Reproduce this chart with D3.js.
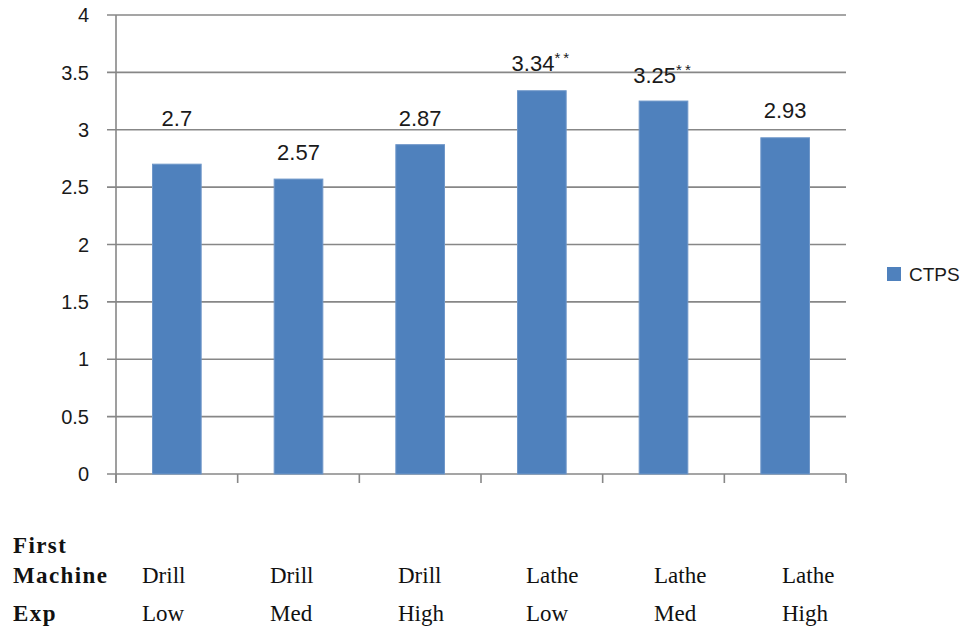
<!DOCTYPE html>
<html>
<head>
<meta charset="utf-8">
<script src="https://cdn.jsdelivr.net/npm/d3@7"></script>
<style>
  body { margin: 0; background: #fff; }
</style>
</head>
<body>
<script>
// chart data
var categories = ["Drill Low", "Drill Med", "Drill High", "Lathe Low", "Lathe Med", "Lathe High"];
var ctps = [2.7, 2.57, 2.87, 3.34, 3.25, 2.93];
var signif = ["", "", "", "**", "**", ""];
var machineRow = ["Drill", "Drill", "Drill", "Lathe", "Lathe", "Lathe"];
var expRow = ["Low", "Med", "High", "Low", "Med", "High"];
var yTicks = [0, 0.5, 1, 1.5, 2, 2.5, 3, 3.5, 4];
var seriesName = "CTPS";

// layout (label lift above the bar top, the first label sits higher in the original)
var labelLift = [38, 19, 19, 20, 18, 20];
var gridColor = "#878787";
var barColor = "#4f81bd";

var svg = d3.select("body").append("svg")
    .attr("width", 962)
    .attr("height", 630)
    .style("font-family", "'Liberation Sans', Arial, sans-serif");

svg.append("rect").attr("width", 962).attr("height", 630).attr("fill", "#fff");

var x = d3.scaleBand()
    .domain(categories)
    .range([116, 846])
    .paddingInner(0.6)
    .paddingOuter(0.3);

var y = d3.scaleLinear()
    .domain([0, 4])
    .range([474, 15]);

// gridlines + y ticks
svg.append("g").selectAll("line")
    .data(yTicks)
    .join("line")
    .attr("x1", 107)
    .attr("x2", 846)
    .attr("y1", function(d) { return y(d); })
    .attr("y2", function(d) { return y(d); })
    .attr("stroke", gridColor)
    .attr("stroke-width", 1.6);

svg.append("g").selectAll("text")
    .data(yTicks)
    .join("text")
    .attr("x", 89)
    .attr("y", function(d) { return y(d); })
    .attr("dy", "0.36em")
    .attr("text-anchor", "end")
    .attr("font-size", 20)
    .attr("fill", "#1a1a1a")
    .text(function(d) { return d; });

// y axis line
svg.append("line")
    .attr("x1", 116).attr("x2", 116)
    .attr("y1", y(4)).attr("y2", y(0) + 9)
    .attr("stroke", gridColor)
    .attr("stroke-width", 1.6);

// x tick marks at band boundaries
var bounds = categories.map(function(c) { return x(c) + x.bandwidth() / 2 - x.step() / 2; });
bounds.push(x.range()[1]);
svg.append("g").selectAll("line")
    .data(bounds)
    .join("line")
    .attr("x1", function(d) { return d; })
    .attr("x2", function(d) { return d; })
    .attr("y1", y(0))
    .attr("y2", y(0) + 9)
    .attr("stroke", gridColor)
    .attr("stroke-width", 1.6);

// bars
svg.append("g").selectAll("rect")
    .data(ctps)
    .join("rect")
    .attr("x", function(d, i) { return x(categories[i]); })
    .attr("y", function(d) { return y(d); })
    .attr("width", x.bandwidth())
    .attr("height", function(d) { return y(0) - y(d); })
    .attr("fill", barColor)
    .attr("stroke", "#6f97c9")
    .attr("stroke-width", 1);

// data labels
var labels = svg.append("g").selectAll("text")
    .data(ctps)
    .join("text")
    .attr("x", function(d, i) { return x(categories[i]) + x.bandwidth() / 2; })
    .attr("y", function(d, i) { return y(d) - labelLift[i]; })
    .attr("text-anchor", "middle")
    .attr("font-size", 22)
    .attr("fill", "#1a1a1a");
labels.append("tspan").text(function(d) { return d; });
labels.append("tspan")
    .attr("font-size", 15)
    .attr("dy", -8)
    .attr("letter-spacing", 3)
    .text(function(d, i) { return signif[i]; });

// legend
svg.append("rect")
    .attr("x", 887).attr("y", 267)
    .attr("width", 14).attr("height", 14)
    .attr("fill", barColor);
svg.append("text")
    .attr("x", 909).attr("y", 281)
    .attr("font-size", 19)
    .attr("fill", "#1a1a1a")
    .text(seriesName);

// table under the chart
var tx = d3.scalePoint()
    .domain(categories)
    .range([142, 782]);

var table = svg.append("g")
    .style("font-family", "'Liberation Serif', 'Times New Roman', serif")
    .attr("font-size", 23)
    .attr("fill", "#111");

var rowHeads = table.append("g")
    .attr("font-weight", "bold")
    .attr("letter-spacing", 1.4);
rowHeads.append("text").attr("x", 13).attr("y", 553).text("First");
rowHeads.append("text").attr("x", 13).attr("y", 583).text("Machine");
rowHeads.append("text").attr("x", 13).attr("y", 621).text("Exp");

table.append("g").selectAll("text")
    .data(machineRow)
    .join("text")
    .attr("x", function(d, i) { return tx(categories[i]); })
    .attr("y", 583)
    .text(function(d) { return d; });

table.append("g").selectAll("text")
    .data(expRow)
    .join("text")
    .attr("x", function(d, i) { return tx(categories[i]); })
    .attr("y", 621)
    .text(function(d) { return d; });
</script>
</body>
</html>
